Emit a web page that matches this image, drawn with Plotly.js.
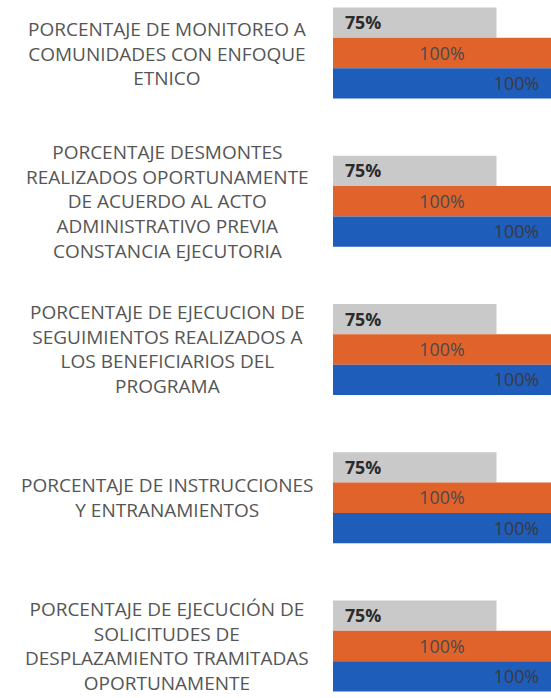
<!DOCTYPE html>
<html>
<head>
<meta charset="utf-8">
<script src="https://cdn.plot.ly/plotly-3.0.1.min.js"></script>
<style>html,body{margin:0;padding:0;background:#fff;}#chart{width:551px;height:698px;}</style>
</head>
<body>
<div id="chart"></div>
<script>
const categories = [
  "PORCENTAJE DE MONITOREO A<br>COMUNIDADES CON ENFOQUE<br>ETNICO",
  "PORCENTAJE DESMONTES<br>REALIZADOS OPORTUNAMENTE<br>DE ACUERDO AL ACTO<br>ADMINISTRATIVO PREVIA<br>CONSTANCIA EJECUTORIA",
  "PORCENTAJE DE EJECUCION DE<br>SEGUIMIENTOS REALIZADOS A<br>LOS BENEFICIARIOS DEL<br>PROGRAMA",
  "PORCENTAJE DE INSTRUCCIONES<br>Y ENTRANAMIENTOS",
  "PORCENTAJE DE EJECUCIÓN DE<br>SOLICITUDES DE<br>DESPLAZAMIENTO TRAMITADAS<br>OPORTUNAMENTE"
];
const catIds = ["c1", "c2", "c3", "c4", "c5"];
const seriesA = [75, 75, 75, 75, 75];
const seriesB = [100, 100, 100, 100, 100];
const seriesC = [100, 100, 100, 100, 100];
const seriesNames = ["Serie 1", "Serie 2", "Serie 3"];

const sp = "\u2002";

const traces = [
  {type: "bar", orientation: "h", name: seriesNames[0], y: catIds, x: seriesA,
   marker: {color: "#c9c9c9"}, texttemplate: sp + "%{x}%", textposition: "inside",
   insidetextanchor: "start", textfont: {family: "Open Sans", size: 19, color: "#2b2b2b", weight: 700}},
  {type: "bar", orientation: "h", name: seriesNames[1], y: catIds, x: seriesB,
   marker: {color: "#e1632c"}, texttemplate: "%{x}%", textposition: "inside",
   insidetextanchor: "middle", textfont: {family: "Open Sans", size: 19, color: "#4a4a4a"}},
  {type: "bar", orientation: "h", name: seriesNames[2], y: catIds, x: seriesC,
   marker: {color: "#1f5dba"}, texttemplate: "%{x}%" + sp, textposition: "inside",
   insidetextanchor: "end", textfont: {family: "Open Sans", size: 19, color: "#3a3a3a"}}
];

const annotations = catIds.map((id, i) => ({
  xref: "paper", yref: "y", x: -0.761, y: id, text: categories[i],
  showarrow: false, xanchor: "center", yanchor: "middle", align: "center",
  font: {family: "Open Sans", size: 19, color: "#555"}
}));

const layout = {
  width: 551, height: 698,
  margin: {l: 333, r: 0, t: 0, b: 0, pad: 0},
  paper_bgcolor: "#fff", plot_bgcolor: "#fff",
  barmode: "group", bargap: 0.385, bargroupgap: 0,
  showlegend: false,
  xaxis: {range: [0, 100], visible: false, fixedrange: true},
  yaxis: {type: "category", range: [4.351, -0.3575], showticklabels: false,
          showgrid: false, zeroline: false, showline: false, ticks: ""},
  annotations: annotations,
  font: {family: "Open Sans"}
};

Plotly.newPlot("chart", traces, layout, {displayModeBar: false, staticPlot: true});
</script>
</body>
</html>
